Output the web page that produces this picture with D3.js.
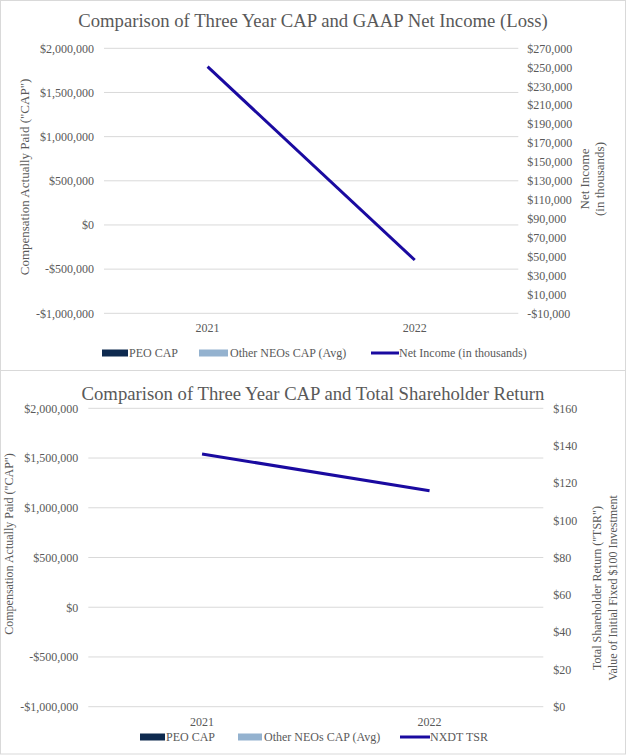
<!DOCTYPE html>
<html>
<head>
<meta charset="utf-8">
<script src="https://cdn.jsdelivr.net/npm/d3@7"></script>
<style>
  html, body { margin: 0; padding: 0; background: #fff; }
  svg { display: block; }
  svg text { font-family: 'Liberation Serif', 'Times New Roman', serif !important; fill: #595959; }
</style>
</head>
<body>
<svg id="chart" width="627" height="755"></svg>
<script>
// ---- Data ----
const years = ["2021", "2022"];
const peoCap = [0, 0];            // PEO CAP (no visible bars)
const otherNeoCap = [0, 0];       // Other NEOs CAP (Avg) (no visible bars)
const netIncome = [250600, 46300]; // Net Income (in thousands)
const nxdtTsr = [135.5, 115.8];   // NXDT TSR

const capTicks = [-1000000, -500000, 0, 500000, 1000000, 1500000, 2000000];
const netIncomeTicks = [-10000, 10000, 30000, 50000, 70000, 90000, 110000, 130000, 150000, 170000, 190000, 210000, 230000, 250000, 270000];
const tsrTicks = [0, 20, 40, 60, 80, 100, 120, 140, 160];

const titles = ["Comparison of Three Year CAP and GAAP Net Income (Loss)",
                "Comparison of Three Year CAP and Total Shareholder Return"];
const legendLabels1 = ["PEO CAP", "Other NEOs CAP (Avg)", "Net Income (in thousands)"];
const legendLabels2 = ["PEO CAP", "Other NEOs CAP (Avg)", "NXDT TSR"];

// ---- Styles ----
const C = { peo: "#0e2a4f", other: "#94b2cf", line: "#1a0aa0", grid: "#d9d9d9", text: "#595959", border: "#d9d9d9" };
const money = d => (d < 0 ? "-$" : "$") + d3.format(",")(Math.abs(d));

const svg = d3.select("#chart");

// borders
svg.append("rect").attr("x", 0.5).attr("y", 0.5).attr("width", 625).attr("height", 370)
  .attr("fill", "none").attr("stroke", C.border);
svg.append("rect").attr("x", 0.5).attr("y", 370.5).attr("width", 625).attr("height", 383.5)
  .attr("fill", "none").attr("stroke", C.border);

function styleAxis(a) {
  a.attr("font-family", null).attr("font-size", null);
  a.select(".domain").remove();
  a.selectAll("text").attr("font-size", 12).attr("fill", C.text);
}

function drawChart(cfg) {
  const g = svg.append("g");
  const x = d3.scaleBand().domain(years).range([cfg.left, cfg.right]);
  const yL = d3.scaleLinear().domain([-1000000, 2000000]).range([cfg.bottom, cfg.top]);
  const yR = d3.scaleLinear().domain(cfg.rDomain).range([cfg.bottom, cfg.top]);

  // gridlines
  g.append("g").selectAll("line").data(capTicks).join("line")
    .attr("x1", cfg.left).attr("x2", cfg.right)
    .attr("y1", d => yL(d)).attr("y2", d => yL(d))
    .attr("stroke", C.grid).attr("stroke-width", 1);

  // bars (CAP series)
  const sub = d3.scaleBand().domain(["peo", "other"]).range([0, x.bandwidth()]).paddingInner(0.1).paddingOuter(0.6);
  years.forEach((yr, i) => {
    [["peo", peoCap[i]], ["other", otherNeoCap[i]]].forEach(([k, v]) => {
      g.append("rect").attr("x", x(yr) + sub(k)).attr("width", sub.bandwidth())
        .attr("y", Math.min(yL(v), yL(0))).attr("height", Math.abs(yL(v) - yL(0)))
        .attr("fill", k === "peo" ? C.peo : C.other);
    });
  });

  // left axis
  g.append("g").attr("transform", `translate(${cfg.left},0)`)
    .call(d3.axisLeft(yL).tickValues(capTicks).tickFormat(money).tickSize(0).tickPadding(10))
    .call(styleAxis);

  // right axis
  g.append("g").attr("transform", `translate(${cfg.right},0)`)
    .call(d3.axisRight(yR).tickValues(cfg.rTicks).tickFormat(money).tickSize(0).tickPadding(cfg.rPad))
    .call(styleAxis);

  // bottom axis
  g.append("g").attr("transform", `translate(0,${cfg.bottom})`)
    .call(d3.axisBottom(x).tickSize(0).tickPadding(cfg.xPad))
    .call(styleAxis);

  // line series
  const line = d3.line().x((d, i) => x(years[i]) + x.bandwidth() / 2).y(d => yR(d));
  g.append("path").datum(cfg.lineData).attr("d", line)
    .attr("fill", "none").attr("stroke", C.line).attr("stroke-width", 3);

  // title
  g.append("text").attr("x", cfg.titleX).attr("y", cfg.titleY).attr("text-anchor", "middle")
    .attr("font-size", 18.7).text(cfg.title);

  // left axis title
  g.append("text").attr("transform", `translate(${cfg.lTitleX},${cfg.lTitleY}) rotate(-90)`)
    .attr("text-anchor", "middle").attr("font-size", cfg.lTitleSize)
    .text('Compensation Actually Paid ("CAP")');

  // right axis title lines
  cfg.rTitle.forEach((t, i) => {
    g.append("text").attr("transform", `translate(${cfg.rTitleX[i]},${cfg.rTitleY}) rotate(-90)`)
      .attr("text-anchor", "middle").attr("font-size", cfg.rTitleSize).text(t);
  });

  // legend
  const lg = g.append("g");
  const L = cfg.legend;
  lg.append("rect").attr("x", L.sw[0]).attr("y", L.y - 3.5).attr("width", L.sw[1]).attr("height", 7).attr("fill", C.peo);
  lg.append("rect").attr("x", L.sw[2]).attr("y", L.y - 3.5).attr("width", L.sw[3]).attr("height", 7).attr("fill", C.other);
  lg.append("line").attr("x1", L.sw[4]).attr("x2", L.sw[4] + L.sw[5]).attr("y1", L.y).attr("y2", L.y)
    .attr("stroke", C.line).attr("stroke-width", 3);
  cfg.legendLabels.forEach((t, i) => {
    lg.append("text").attr("x", L.tx[i]).attr("y", L.y).attr("dy", "0.35em").attr("font-size", 12).text(t);
  });
}

drawChart({
  left: 104, right: 518.3, top: 48.3, bottom: 313.3,
  rDomain: [-10000, 270000], rTicks: netIncomeTicks, rPad: 9, xPad: 10,
  lineData: netIncome,
  title: titles[0], titleX: 313, titleY: 27,
  lTitleX: 29, lTitleY: 177, lTitleSize: 13,
  rTitle: ["Net Income", "(in thousands)"], rTitleX: [589, 604], rTitleY: 179, rTitleSize: 13,
  legend: { y: 353, sw: [102, 26, 199, 29, 371, 28], tx: [129, 230, 399] },
  legendLabels: legendLabels1
});

drawChart({
  left: 88.3, right: 543.3, top: 408.3, bottom: 706.7,
  rDomain: [0, 160], rTicks: tsrTicks, rPad: 10, xPad: 11,
  lineData: nxdtTsr,
  title: titles[1], titleX: 313, titleY: 400,
  lTitleX: 13, lTitleY: 544, lTitleSize: 12,
  rTitle: ['Total Shareholder Return ("TSR")', "Value of Initial Fixed $100 Investment"], rTitleX: [601, 617], rTitleY: 588, rTitleSize: 12,
  legend: { y: 737, sw: [140, 25, 238, 24, 400, 30], tx: [166, 264, 430] },
  legendLabels: legendLabels2
});
</script>
</body>
</html>
